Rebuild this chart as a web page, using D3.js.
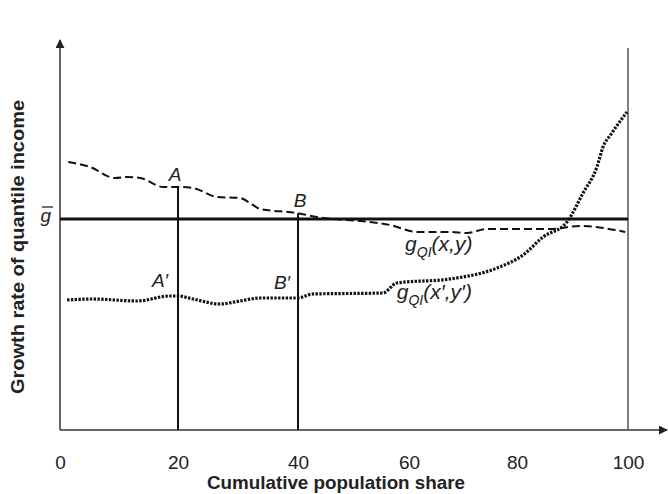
<!DOCTYPE html>
<html>
<head>
<meta charset="utf-8">
<script src="https://cdn.jsdelivr.net/npm/d3@7"></script>
<style>
  body { margin: 0; background: #fff; }
  svg { display: block; }
  .tick text { font-family: "Liberation Sans", Arial, sans-serif; font-size: 19px; fill: #222; }
  .title { font-family: "Liberation Sans", Arial, sans-serif; font-weight: bold; font-size: 19px; fill: #222; }
  .lbl { font-family: "Liberation Sans", Arial, sans-serif; font-style: italic; font-size: 19px; fill: #222; }
  .curve-lbl { font-size: 21px; }
</style>
</head>
<body>
<script>
/**
 * Data.
 */
const xTicks = [0, 20, 40, 60, 80, 100];
const gBar = 21.1;
const markers = [20, 40];

// g_QI(x, y): dashed curve
const dashedX = [1.4, 5.1, 9.3, 11.4, 13.6, 17.5, 20, 22.5, 26.5, 30.3, 32.5, 33.7, 39.8, 43.4, 46.3, 51.2, 56.6, 61.5, 67.6, 70.7, 74.4, 86, 91.4, 99.5];
const dashedY = [26.8, 26.3, 25.2, 25.3, 25.2, 24.3, 24.3, 24.2, 23.3, 23.2, 22.5, 22.1, 21.7, 21.3, 21.1, 20.9, 20.5, 19.8, 19.8, 19.7, 20.1, 20.1, 20.4, 19.8];

// g_QI(x', y'): dotted curve
const dottedX = [1.2, 5.6, 13.1, 18.6, 20, 22.5, 27, 30.3, 33.7, 39.8, 42.7, 55.3, 57.8, 67.6, 76.3, 81.1, 84.7, 89, 91.9, 94.4, 95.5, 97.1, 99.8];
const dottedY = [13, 13.1, 12.9, 13.4, 13.4, 13.1, 12.6, 12.9, 13.2, 13.2, 13.6, 13.7, 14.7, 15.1, 16.2, 17.5, 19.3, 20.8, 23.7, 26.3, 28.3, 29.7, 31.8];

/**
 * Visual configs.
 */
const visWidth = 668, visHeight = 494;

const svg = d3.select('body').append('svg')
    .attr('width', visWidth)
    .attr('height', visHeight);

const defs = svg.append('defs');
defs.append('marker')
    .attr('id', 'arrow')
    .attr('viewBox', '0 0 10 10')
    .attr('refX', 9).attr('refY', 5)
    .attr('markerWidth', 9).attr('markerHeight', 9)
    .attr('markerUnits', 'userSpaceOnUse')
    .attr('orient', 'auto')
  .append('path')
    .attr('d', 'M0,0 L10,5 L0,10 z')
    .attr('fill', '#222');

/**
 * D3 scales (the printed x axis is slightly uneven).
 */
const xScale = d3.scaleLinear().domain(xTicks).range([60, 178, 298, 409, 517, 628]);
const yScale = d3.scaleLinear().domain([0, 39]).range([430, 40]);

const line = d3.line()
    .x(d => xScale(d[0]))
    .y(d => yScale(d[1]))
    .curve(d3.curveMonotoneX);

const dashed = dashedX.map((x, i) => [x, dashedY[i]]);
const dotted = dottedX.map((x, i) => [x, dottedY[i]]);

/**
 * Axes.
 */
const x0 = xScale(0), yBase = yScale(0);
svg.append('line')
    .attr('x1', x0).attr('y1', yBase)
    .attr('x2', x0).attr('y2', yScale(39))
    .attr('stroke', '#333').attr('stroke-width', 1.5)
    .attr('marker-end', 'url(#arrow)');
svg.append('line')
    .attr('x1', x0).attr('y1', yBase)
    .attr('x2', visWidth - 1).attr('y2', yBase)
    .attr('stroke', '#333').attr('stroke-width', 1.5)
    .attr('marker-end', 'url(#arrow)');

const xAxis = d3.axisBottom(xScale).tickValues(xTicks).tickSize(0).tickPadding(26);
svg.append('g')
    .attr('transform', `translate(0,${yBase})`)
    .call(xAxis)
    .call(g => g.select('.domain').remove());

// right boundary at 100
svg.append('line')
    .attr('x1', xScale(100)).attr('y1', yBase)
    .attr('x2', xScale(100)).attr('y2', yScale(38.2))
    .attr('stroke', '#555').attr('stroke-width', 1.5);

// vertical markers at 20 and 40, from the axis up to the dashed curve
const dashedAt = x => {
    const i = d3.bisector(d => d[0]).left(dashed, x);
    const a = dashed[Math.max(0, i - 1)], b = dashed[Math.min(dashed.length - 1, i)];
    return b[0] === a[0] ? a[1] : a[1] + (b[1] - a[1]) * (x - a[0]) / (b[0] - a[0]);
};
svg.selectAll('line.marker')
    .data(markers)
    .join('line')
    .attr('class', 'marker')
    .attr('x1', d => xScale(d)).attr('x2', d => xScale(d))
    .attr('y1', yBase).attr('y2', d => yScale(dashedAt(d)))
    .attr('stroke', '#111').attr('stroke-width', 2);

// average growth line
svg.append('line')
    .attr('x1', x0).attr('x2', xScale(100))
    .attr('y1', yScale(gBar)).attr('y2', yScale(gBar))
    .attr('stroke', '#111').attr('stroke-width', 3.2);

/**
 * Curves.
 */
svg.append('path')
    .attr('d', line(dashed))
    .attr('fill', 'none')
    .attr('stroke', '#111')
    .attr('stroke-width', 2)
    .attr('stroke-dasharray', '8,4');

svg.append('path')
    .attr('d', line(dotted))
    .attr('fill', 'none')
    .attr('stroke', '#111')
    .attr('stroke-width', 3.2)
    .attr('stroke-dasharray', '2.4,1.4');

/**
 * Labels.
 */
// g-bar label left of the axis
const gy = yScale(gBar);
svg.append('text')
    .attr('class', 'lbl')
    .attr('x', x0 - 9).attr('y', gy + 3)
    .attr('text-anchor', 'end')
    .text('g');
svg.append('line')
    .attr('x1', x0 - 18).attr('x2', x0 - 7)
    .attr('y1', gy - 12).attr('y2', gy - 12)
    .attr('stroke', '#222').attr('stroke-width', 1.3);

const pointLabels = [
    { t: 'A', x: 20, y: dashedAt(20), dx: -3, dy: -6 },
    { t: 'B', x: 40, y: dashedAt(40), dx: 2, dy: -6 },
    { t: 'A\u2032', x: 20, y: 13.4, dx: -18, dy: -9 },
    { t: 'B\u2032', x: 40, y: 13.2, dx: -16, dy: -9 }
];
svg.selectAll('text.pt')
    .data(pointLabels)
    .join('text')
    .attr('class', 'lbl pt')
    .attr('x', d => xScale(d.x) + d.dx)
    .attr('y', d => yScale(d.y) + d.dy)
    .attr('text-anchor', 'middle')
    .text(d => d.t);

function curveLabel(x, y, args) {
    const t = svg.append('text').attr('class', 'lbl curve-lbl')
        .attr('x', xScale(x)).attr('y', yScale(y));
    t.append('tspan').text('g');
    t.append('tspan').attr('dy', 6).attr('font-size', 14).text('QI');
    t.append('tspan').attr('dy', -6).text(args);
}
curveLabel(59.3, 17.9, '(x,y)');
curveLabel(57.8, 13.1, '(x\u2032,y\u2032)');

/**
 * Titles.
 */
svg.append('text')
    .attr('class', 'title')
    .attr('x', 336).attr('y', 489)
    .attr('text-anchor', 'middle')
    .attr('textLength', 258)
    .attr('lengthAdjust', 'spacingAndGlyphs')
    .text('Cumulative population share');

svg.append('text')
    .attr('class', 'title')
    .attr('transform', 'translate(24,247) rotate(-90)')
    .attr('text-anchor', 'middle')
    .attr('textLength', 294)
    .attr('lengthAdjust', 'spacingAndGlyphs')
    .text('Growth rate of quantile income');
</script>
</body>
</html>
